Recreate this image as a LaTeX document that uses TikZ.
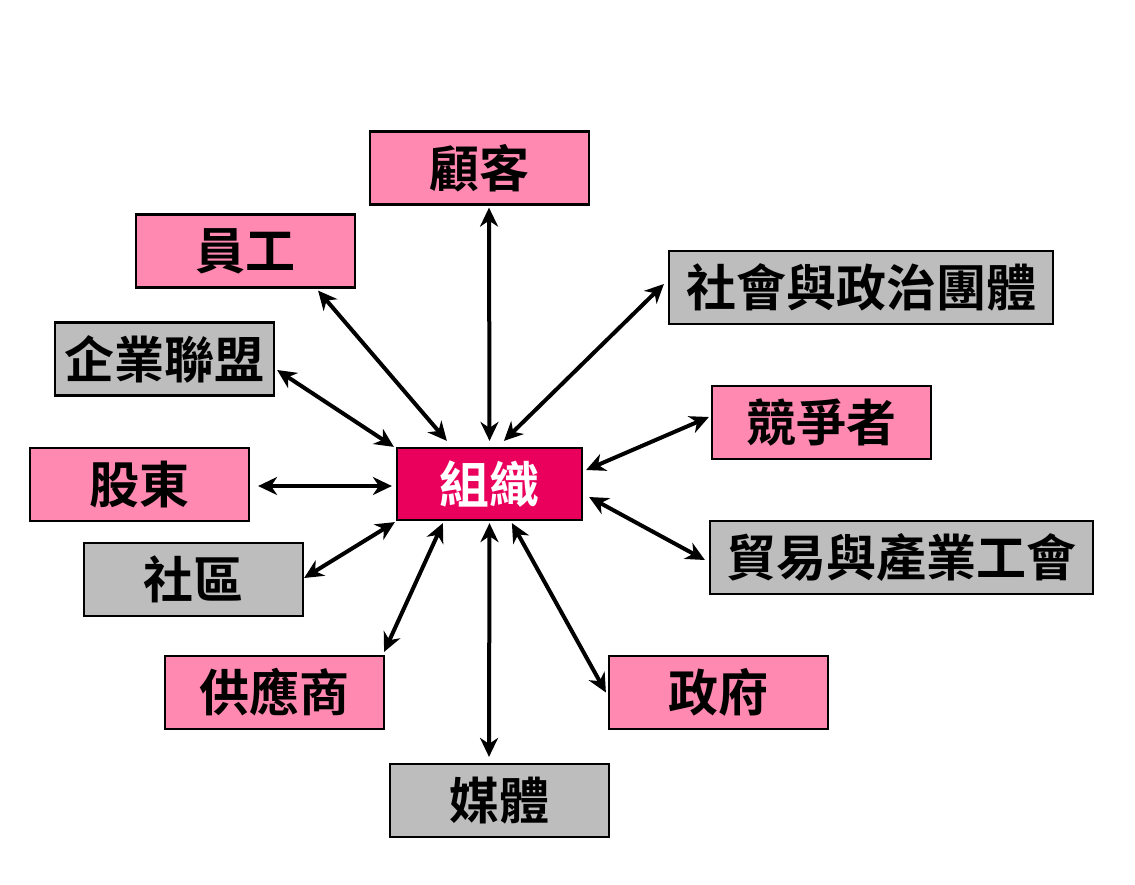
\documentclass[tikz,border=0pt]{standalone}
\usepackage{fontspec}
\setmainfont{Noto Sans CJK TC}[BoldFont={* Bold}]
\usetikzlibrary{arrows.meta,calc}
\definecolor{pinkbox}{RGB}{255,137,176}
\definecolor{graybox}{RGB}{189,189,189}
\definecolor{orgbox}{RGB}{234,0,92}
\tikzset{
  box/.style={draw=black,line width=2.2pt,minimum width=219pt,minimum height=73pt,inner sep=0pt,font=\fontsize{50}{54}\selectfont\bfseries,text=black},
  pbox/.style={box,fill=pinkbox},
  gbox/.style={box,fill=graybox},
  obox/.style={box,fill=orgbox,text=white,minimum width=185pt,minimum height=72pt},
  link/.style={line width=4pt,{Stealth[length=19pt,width=18pt,inset=6pt]}-{Stealth[length=19pt,width=18pt,inset=6pt]}}
}
\begin{document}
\begin{tikzpicture}[x=1pt,y=-1pt]
\path[use as bounding box,fill=white] (0,0) rectangle (1135,884);
\node[pbox] (cust) at (479.5,168) {顧客};
\node[pbox] (emp) at (245.5,251) {員工};
\node[gbox,minimum width=384pt] (soc) at (861,287.5) {社會與政治團體};
\node[gbox] (alli) at (164.5,359) {企業聯盟};
\node[pbox] (comp) at (821.5,422.5) {競爭者};
\node[obox] (org) at (489.5,484) {組織};
\node[pbox] (share) at (139.5,484.5) {股東};
\node[gbox,minimum width=383pt] (trade) at (901.5,557.5) {貿易與產業工會};
\node[gbox] (comm) at (193.5,579.5) {社區};
\node[pbox] (supp) at (274.5,692.5) {供應商};
\node[pbox] (gov) at (718.5,692.5) {政府};
\node[gbox] (media) at (499.5,800.5) {媒體};

\draw[link] ($(org.north)+(0,-6)$) -- ($(cust.south)+(9.5,2)$);
\draw[link] ($(org.north west)+(51,-6)$) -- ($(emp.south east)+(-38,2)$);
\draw[link] ($(org.north west)+(108,-6)$) -- ($(soc.west)+(-4,-3.5)$);
\draw[link] ($(org.north west)+(-2,0)$) -- ($(alli.east)+(2,11)$);
\draw[link] ($(org.east)+(3,-14)$) -- ($(comp.west)+(-2,-5.5)$);
\draw[link] ($(org.west)+(-4,2)$) -- ($(share.east)+(8,1.5)$);
\draw[link] ($(org.east)+(6,13)$) -- ($(trade.west)+(-4,2.5)$);
\draw[link] ($(org.south west)+(-1,1)$) -- ($(comm.east)+(0,-1.5)$);
\draw[link] ($(org.south west)+(47,2)$) -- ($(supp.north east)+(-1,-3)$);
\draw[link] ($(org.south)+(0,2)$) -- ($(media.north)+(-10.5,-6)$);
\draw[link] ($(org.south west)+(116,2)$) -- ($(gov.west)+(-2,0)$);
\end{tikzpicture}
\end{document}
